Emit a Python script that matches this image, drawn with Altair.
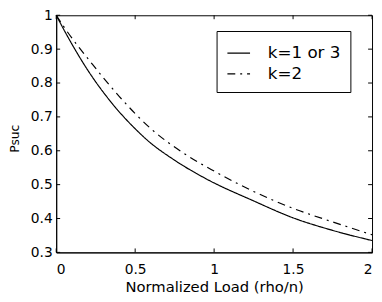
import altair as alt
import pandas as pd

series_names = ["k=1 or 3", "k=2"]

solid_x = [0, 0.075, 0.19, 0.375, 0.5, 0.575, 0.75, 0.95, 1.25, 1.5, 1.75, 2.0]
solid_y = [1.0, 0.935, 0.845, 0.728, 0.665, 0.632, 0.572, 0.517, 0.452, 0.402, 0.365, 0.335]

dash_x = [0, 0.05, 0.23, 0.4, 0.6, 0.8, 1.0, 1.25, 1.5, 1.75, 2.0]
dash_y = [1.0, 0.965, 0.855, 0.76, 0.665, 0.595, 0.54, 0.48, 0.43, 0.39, 0.352]

x_ticks = [0, 0.5, 1, 1.5, 2]
y_ticks = [0.3, 0.4, 0.5, 0.6, 0.7, 0.8, 0.9, 1.0]

rows = [{"x": a, "y": b, "series": series_names[0]} for a, b in zip(solid_x, solid_y)]
rows += [{"x": a, "y": b, "series": series_names[1]} for a, b in zip(dash_x, dash_y)]
df = pd.DataFrame(rows)
xt = pd.DataFrame({"x": x_ticks})
yt = pd.DataFrame({"y": y_ticks})

W, H = 321, 241
FONT = "DejaVu Sans"
xs = alt.Scale(domain=[0, 2], nice=False, zero=False)
ys = alt.Scale(domain=[0.3, 1.0], nice=False, zero=False)

x_axis = alt.Axis(
    values=x_ticks, format="~g", title="Normalized Load (rho/n)",
    grid=False, tickSize=0, labelPadding=10, labelFontSize=14, labelFont=FONT,
    titleFont=FONT, titleFontSize=15, titleFontWeight="normal",
    titleBaseline="alphabetic", titleY=40, labelColor="black", titleColor="black",
    domainColor="black")
y_axis = alt.Axis(
    values=y_ticks, format="~g", title="Psuc",
    grid=False, tickSize=0, labelPadding=4, labelFontSize=14, labelFont=FONT,
    titleFont=FONT, titleFontSize=12.5, titleFontWeight="normal",
    titleAngle=270, titleBaseline="middle", titleAlign="center",
    titleX=-42, titleY=125, labelColor="black", titleColor="black",
    domainColor="black")

lines = alt.Chart(df).mark_line(strokeWidth=1.2, color="black", interpolate="monotone").encode(
    x=alt.X("x:Q", scale=xs, axis=x_axis),
    y=alt.Y("y:Q", scale=ys, axis=y_axis),
    strokeDash=alt.StrokeDash("series:N", scale=alt.Scale(domain=series_names, range=[[1, 0], [8, 5, 2, 5]]),
        legend=alt.Legend(orient="none", legendX=163, legendY=16, title=None,
                          fillColor="white", strokeColor="black", padding=10,
                          labelFont=FONT, labelFontSize=17, labelColor="black",
                          symbolType="stroke", symbolSize=529, symbolStrokeWidth=1.2,
                          symbolStrokeColor="black", rowPadding=0, labelOffset=17)),
    order="x:Q",
)

tick_len = 4
bottom_ticks = alt.Chart(xt).mark_rule(color="black").encode(
    x=alt.X("x:Q", scale=xs, axis=x_axis), y=alt.value(H), y2=alt.value(H - tick_len))
top_ticks = alt.Chart(xt).mark_rule(color="black").encode(
    x=alt.X("x:Q", scale=xs, axis=x_axis), y=alt.value(0), y2=alt.value(tick_len))
left_ticks = alt.Chart(yt).mark_rule(color="black").encode(
    y=alt.Y("y:Q", scale=ys, axis=y_axis), x=alt.value(0), x2=alt.value(tick_len))
right_ticks = alt.Chart(yt).mark_rule(color="black").encode(
    y=alt.Y("y:Q", scale=ys, axis=y_axis), x=alt.value(W), x2=alt.value(W - tick_len))

chart = alt.layer(lines, bottom_ticks, top_ticks, left_ticks, right_ticks).properties(
    width=W, height=H,
    autosize=alt.AutoSizeParams(type="none"),
    padding={"left": 49, "top": 5, "right": 2, "bottom": 46},
    background="white",
).configure_view(stroke="black", strokeWidth=1)

chart.save("out.html", embed_options={"renderer": "svg", "actions": False})
